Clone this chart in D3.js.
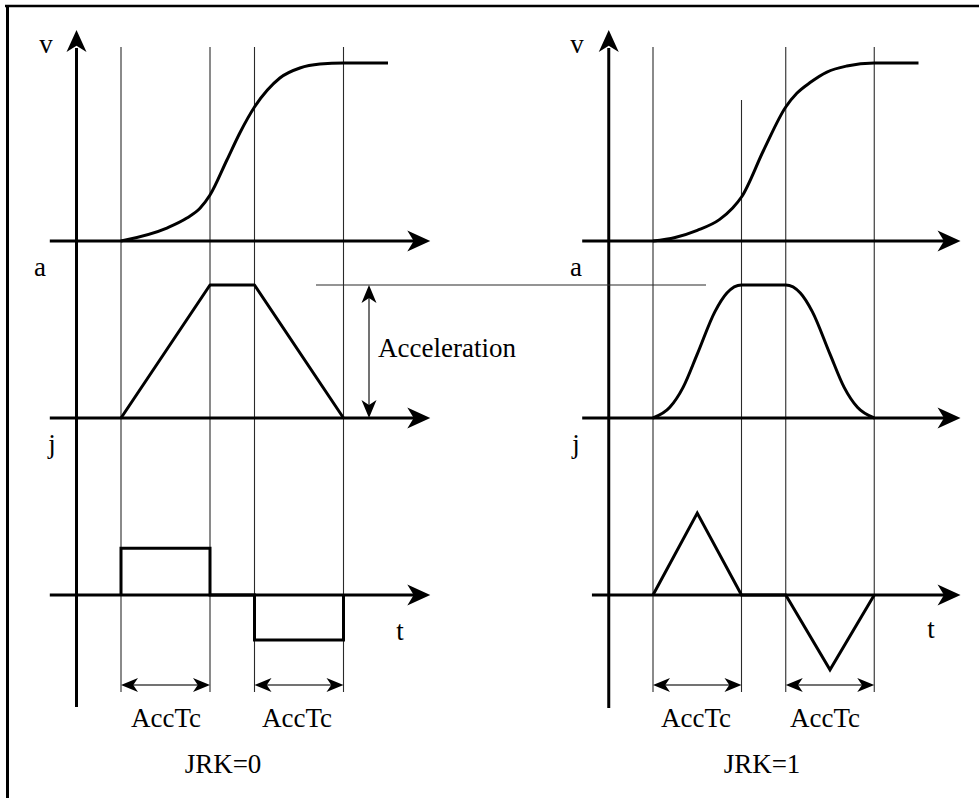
<!DOCTYPE html>
<html>
<head>
<meta charset="utf-8">
<script src="https://cdn.jsdelivr.net/npm/d3@7"></script>
<style>
  html, body { margin: 0; padding: 0; background: #fff; }
  svg { display: block; }
  text { font-family: "Liberation Serif", "Times New Roman", serif; fill: #000; }
</style>
</head>
<body>
<svg id="chart" width="979" height="798"></svg>
<script>
// Phase boundaries along t: jerk starts, accel plateau starts, plateau ends, motion done
const phaseTimes = [0, 2, 3, 5];

// Velocity (normalised 0..1) against t
const velocityJrk0 = [[0,0],[1.03,0.073],[1.48,0.129],[1.78,0.185],[2,0.258],[2.38,0.455],[2.67,0.607],[3,0.753],[3.29,0.848],[3.57,0.916],[4.02,0.972],[4.47,0.994],[5,1],[6,1]];
const velocityJrk1 = [[0,0],[0.5,0.02],[1,0.06],[1.5,0.12],[1.8,0.185],[2,0.247],[2.5,0.51],[3,0.753],[3.25,0.83],[3.55,0.89],[3.93,0.949],[4.38,0.983],[5,1],[6,1]];

// Acceleration (normalised 0..1) against t
const accelJrk0 = [[0,0],[2,1],[3,1],[5,0]];
const accelJrk1 = [[0,0],[0.38,0.08],[0.68,0.23],[1,0.48],[1.4,0.8],[1.67,0.94],[2,1],[3,1],[3.33,0.94],[3.6,0.8],[4,0.48],[4.32,0.23],[4.62,0.08],[5,0]];

// Jerk against t
const jerkJrk0 = [[0,0],[0,0.52],[2,0.52],[2,0],[3,0],[3,-0.5],[5,-0.5],[5,0]];
const jerkJrk1 = [[0,0],[1,0.91],[2,0],[3,0],[4,-0.83],[5,0]];

// Text
const axisLabels = ["v", "a", "j"];
const timeLabel = "t";
const intervalLabel = "AccTc";
const panelTitles = ["JRK=0", "JRK=1"];
const accelLabel = "Acceleration";

const svg = d3.select("#chart");
const FONT = 27;

// Outer frame (top and left edges)
svg.append("line").attr("x1", 5).attr("y1", 6).attr("x2", 979).attr("y2", 6)
  .attr("stroke", "#000").attr("stroke-width", 2.6);
svg.append("line").attr("x1", 7.5).attr("y1", 5).attr("x2", 7.5).attr("y2", 798)
  .attr("stroke", "#000").attr("stroke-width", 3);

// Filled, slightly notched arrowhead with its tip at (x, y), pointing along angle (deg)
function arrowHead(g, x, y, angle, L, W) {
  g.append("path")
    .attr("d", `M0,0L${-L},${-W}L${-L * 0.72},0L${-L},${W}Z`)
    .attr("transform", `translate(${x},${y}) rotate(${angle})`)
    .attr("fill", "#000");
}

const panels = [
  { x0: 121, x5: 343.5, vel: velocityJrk0, acc: accelJrk0, jerk: jerkJrk0, accCurve: d3.curveLinear,
    jStart: -1.6, guideTop: [47, 47, 47, 47], axisBottom: 707,
    labelX: { v: 46, a: 40, j: 52, t: 400 }, tBase: 640,
    accTcX: [166, 297], titleX: 223, title: panelTitles[0] },
  { x0: 653, x5: 874.25, vel: velocityJrk1, acc: accelJrk1, jerk: jerkJrk1, accCurve: d3.curveMonotoneX,
    jStart: -1.38, guideTop: [47, 100, 47, 47], axisBottom: 708,
    labelX: { v: 577, a: 576, j: 576, t: 931 }, tBase: 638,
    accTcX: [696, 825], titleX: 762, title: panelTitles[1] }
];

const yV = d3.scaleLinear().domain([0, 1]).range([241, 63]);
const yA = d3.scaleLinear().domain([0, 1]).range([418, 285]);
const yJ = d3.scaleLinear().domain([-1, 1]).range([685, 505]);

panels.forEach(p => {
  const g = svg.append("g");
  const x = d3.scaleLinear().domain([0, 5]).range([p.x0, p.x5]);

  // Thin vertical guides at the phase boundaries
  phaseTimes.forEach((t, i) => {
    g.append("line")
      .attr("x1", x(t)).attr("x2", x(t))
      .attr("y1", p.guideTop[i]).attr("y2", 692)
      .attr("stroke", "#2a2a2a").attr("stroke-width", 1.1);
  });

  // Vertical axis
  const ax = x(-1);
  g.append("line").attr("x1", ax).attr("x2", ax).attr("y1", 48).attr("y2", p.axisBottom)
    .attr("stroke", "#000").attr("stroke-width", 3);
  arrowHead(g, ax, 30, -90, 22, 10);

  // Horizontal axes for v, a, j
  const tipX = x(6.95);
  [[yV(0), -1.6], [yA(0), -1.6], [yJ(0), p.jStart]].forEach(([yy, ts]) => {
    g.append("line").attr("x1", x(ts)).attr("x2", tipX - 10).attr("y1", yy).attr("y2", yy)
      .attr("stroke", "#000").attr("stroke-width", 3);
    arrowHead(g, tipX, yy, 0, 23, 10.5);
  });

  // Curves
  g.append("path").datum(p.vel)
    .attr("d", d3.line().x(d => x(d[0])).y(d => yV(d[1])).curve(d3.curveMonotoneX))
    .attr("fill", "none").attr("stroke", "#000").attr("stroke-width", 3).attr("stroke-linejoin", "round");
  g.append("path").datum(p.acc)
    .attr("d", d3.line().x(d => x(d[0])).y(d => yA(d[1])).curve(p.accCurve))
    .attr("fill", "none").attr("stroke", "#000").attr("stroke-width", 3).attr("stroke-linejoin", "round");
  g.append("path").datum(p.jerk)
    .attr("d", d3.line().x(d => x(d[0])).y(d => yJ(d[1])))
    .attr("fill", "none").attr("stroke", "#000").attr("stroke-width", 3).attr("stroke-linejoin", "miter");

  // Axis letters
  g.append("text").attr("x", p.labelX.v).attr("y", 53).attr("text-anchor", "middle")
    .attr("font-size", FONT).text(axisLabels[0]);
  g.append("text").attr("x", p.labelX.a).attr("y", 276).attr("text-anchor", "middle")
    .attr("font-size", FONT).text(axisLabels[1]);
  g.append("text").attr("x", p.labelX.j).attr("y", 453).attr("text-anchor", "middle")
    .attr("font-size", FONT).text(axisLabels[2]);
  g.append("text").attr("x", p.labelX.t).attr("y", p.tBase).attr("text-anchor", "middle")
    .attr("font-size", FONT).text(timeLabel);

  // AccTc interval markers
  [[phaseTimes[0], phaseTimes[1]], [phaseTimes[2], phaseTimes[3]]].forEach(([a, b], i) => {
    const yy = 685;
    g.append("line").attr("x1", x(a) + 8).attr("x2", x(b) - 8).attr("y1", yy).attr("y2", yy)
      .attr("stroke", "#444").attr("stroke-width", 1.5);
    arrowHead(g, x(a), yy, 180, 17, 7);
    arrowHead(g, x(b), yy, 0, 17, 7);
    g.append("text").attr("x", p.accTcX[i]).attr("y", 727).attr("text-anchor", "middle")
      .attr("font-size", FONT).text(intervalLabel);
  });

  // Panel title
  g.append("text").attr("x", p.titleX).attr("y", 773).attr("text-anchor", "middle")
    .attr("font-size", FONT).text(p.title);
});

// Peak acceleration reference: horizontal line and dimension arrow
const peakY = yA(1), baseY = yA(0);
svg.append("line").attr("x1", 316).attr("x2", 706).attr("y1", peakY).attr("y2", peakY)
  .attr("stroke", "#2a2a2a").attr("stroke-width", 1.1);
svg.append("line").attr("x1", 369).attr("x2", 369).attr("y1", peakY + 8).attr("y2", baseY - 8)
  .attr("stroke", "#444").attr("stroke-width", 1.5);
arrowHead(svg, 369, peakY, -90, 18, 7.5);
arrowHead(svg, 369, baseY, 90, 18, 7.5);
svg.append("text").attr("x", 378).attr("y", 357).attr("font-size", FONT).text(accelLabel);
</script>
</body>
</html>
